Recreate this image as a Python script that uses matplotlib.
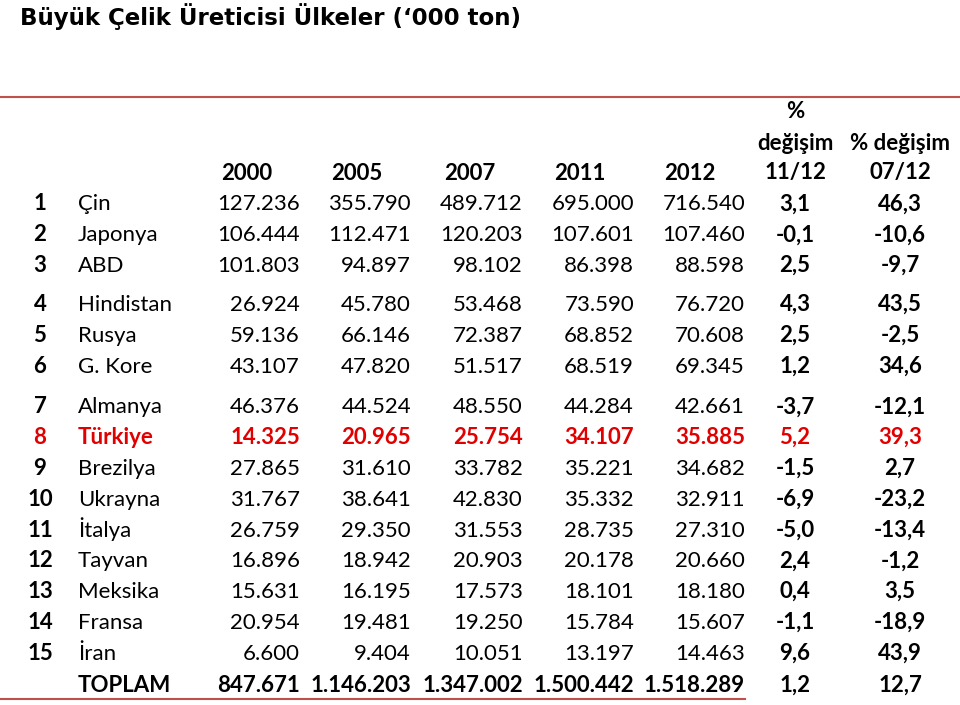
import matplotlib
matplotlib.use("Agg")
import matplotlib.pyplot as plt

# data ('000 ton)
ranks = list(range(1, 16))
countries = ["Çin", "Japonya", "ABD", "Hindistan", "Rusya", "G. Kore", "Almanya",
             "Türkiye", "Brezilya", "Ukrayna", "İtalya", "Tayvan", "Meksika",
             "Fransa", "İran"]
y2000 = [127236, 106444, 101803, 26924, 59136, 43107, 46376, 14325, 27865, 31767,
         26759, 16896, 15631, 20954, 6600]
y2005 = [355790, 112471, 94897, 45780, 66146, 47820, 44524, 20965, 31610, 38641,
         29350, 18942, 16195, 19481, 9404]
y2007 = [489712, 120203, 98102, 53468, 72387, 51517, 48550, 25754, 33782, 42830,
         31553, 20903, 17573, 19250, 10051]
y2011 = [695000, 107601, 86398, 73590, 68852, 68519, 44284, 34107, 35221, 35332,
         28735, 20178, 18101, 15784, 13197]
y2012 = [716540, 107460, 88598, 76720, 70608, 69345, 42661, 35885, 34682, 32911,
         27310, 20660, 18180, 15607, 14463]
chg_11_12 = [3.1, -0.1, 2.5, 4.3, 2.5, 1.2, -3.7, 5.2, -1.5, -6.9, -5.0, 2.4, 0.4, -1.1, 9.6]
chg_07_12 = [46.3, -10.6, -9.7, 43.5, -2.5, 34.6, -12.1, 39.3, 2.7, -23.2, -13.4, -1.2, 3.5, -18.9, 43.9]
totals = [847671, 1146203, 1347002, 1500442, 1518289]
total_chg = [1.2, 12.7]
years = ["2000", "2005", "2007", "2011", "2012"]
highlight = "Türkiye"


def fmt_int(v):
    return f"{v:,}".replace(",", ".")


def fmt_pct(v):
    return f"{v:.1f}".replace(".", ",")


plt.rcParams['font.family'] = ['Lato', 'DejaVu Sans']

fig = plt.figure(figsize=(9.6, 7.05), dpi=100)
ax = fig.add_axes([0, 0, 1, 1])
ax.set_xlim(0, 960)
ax.set_ylim(705, 0)
ax.axis("off")

FS = 16
red = "#E00000"
line_red = "#C0504D"
B = 7.5  # offset from row centre to baseline


def cell(x, y, s, ha="center", **kw):
    ax.text(x, y + B, s, fontsize=FS, ha=ha, va="baseline", **kw)


ax.text(20, 25, "Büyük Çelik Üreticisi Ülkeler (‘000 ton)", fontsize=16.5, fontweight="bold",
        family="DejaVu Sans", ha="left", va="baseline")
ax.plot([0, 960], [97, 97], color=line_red, lw=1.5)

# header
year_x = [247, 357, 470, 580, 690]
for x, y in zip(year_x, years):
    cell(x, 172, y, fontweight="bold")
cell(795, 110, "%", fontweight="bold")
cell(795, 142, "değişim", fontweight="bold")
cell(795, 172, "11/12", fontweight="bold")
cell(900, 142, "% değişim", fontweight="bold")
cell(900, 172, "07/12", fontweight="bold")

col_right = [300, 411, 523, 634, 745]

# row positions with group gaps after rows 3 and 6
row_y = []
y = 203
for i in range(len(countries)):
    if i == 3:
        y += 8
    if i == 6:
        y += 10
    row_y.append(y)
    y += 30.8
total_y = row_y[-1] + 32

for i, name in enumerate(countries):
    yy = row_y[i]
    hl = name == highlight
    c = red if hl else "black"
    w = "bold" if hl else "normal"
    cell(40, yy, str(ranks[i]), fontweight="bold", color=c)
    cell(78, yy, name, ha="left", fontweight=w, color=c)
    vals = [y2000[i], y2005[i], y2007[i], y2011[i], y2012[i]]
    for x, v in zip(col_right, vals):
        cell(x, yy, fmt_int(v), ha="right", fontweight=w, color=c)
    cell(795, yy, fmt_pct(chg_11_12[i]), fontweight="bold", color=c)
    cell(900, yy, fmt_pct(chg_07_12[i]), fontweight="bold", color=c)

cell(78, total_y, "TOPLAM", ha="left", fontweight="bold")
for x, v in zip(col_right, totals):
    cell(x, total_y, fmt_int(v), ha="right", fontweight="bold")
cell(795, total_y, fmt_pct(total_chg[0]), fontweight="bold")
cell(900, total_y, fmt_pct(total_chg[1]), fontweight="bold")
ax.plot([0, 745], [699, 699], color=line_red, lw=1.5)

fig.savefig("out.png", dpi=100)
